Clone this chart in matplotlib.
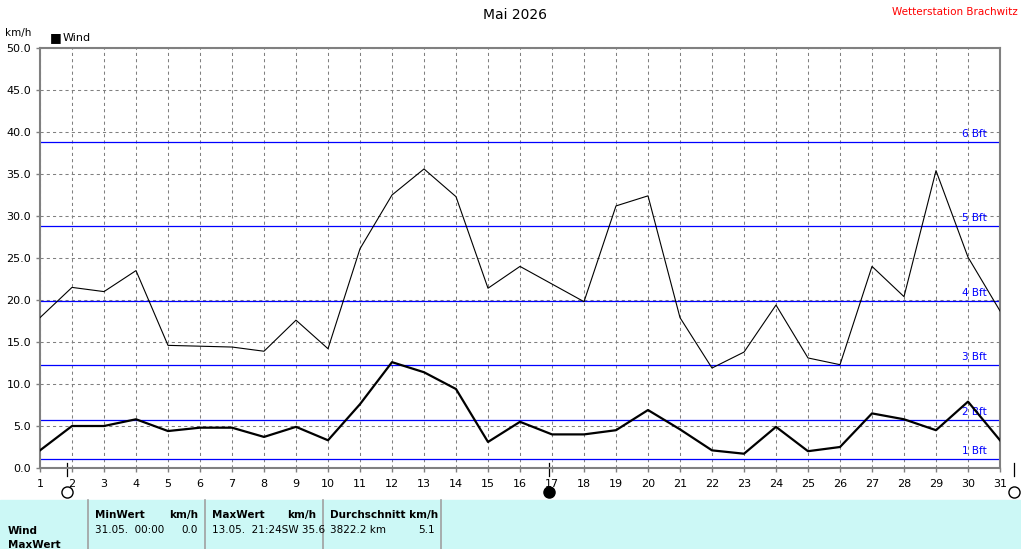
import numpy as np
import matplotlib
matplotlib.use('Agg')
import matplotlib.pyplot as plt
from matplotlib.patches import Rectangle
from matplotlib.lines import Line2D

days = np.arange(1, 32)
boeen = [17.9, 21.5, 21.0, 23.5, 14.6, 14.5, 14.4, 13.9, 17.6, 14.2,
         26.1, 32.5, 35.6, 32.3, 21.4, 24.0, 21.9, 19.8, 31.2, 32.4,
         17.9, 11.9, 13.8, 19.4, 13.1, 12.3, 24.0, 20.4, 35.4, 25.1, 18.7]
wind = [2.1, 5.0, 5.0, 5.8, 4.4, 4.8, 4.8, 3.7, 4.9, 3.3,
        7.6, 12.6, 11.4, 9.4, 3.1, 5.5, 4.0, 4.0, 4.5, 6.9,
        4.6, 2.1, 1.7, 4.9, 2.0, 2.5, 6.5, 5.8, 4.5, 7.9, 3.3]
bft_grenzen = [1.05, 5.7, 12.3, 19.9, 28.8, 38.8]
bft_namen = ['1 Bft', '2 Bft', '3 Bft', '4 Bft', '5 Bft', '6 Bft']
mond_tage = [1.84, 16.9, 31.45]
mond_voll = [True, False, True]

W, H = 1021, 549
def px(x, y):
    return x / W, 1 - y / H

fig = plt.figure(figsize=(W / 100, H / 100), dpi=100)
ax = fig.add_axes([40 / W, (H - 468) / H, 960 / W, 420 / H])

ax.set_xlim(1, 31)
ax.set_ylim(0, 50)
ax.set_xticks(days)
ax.set_yticks(np.arange(0, 50.1, 5))
ax.set_yticklabels([f'{v:.1f}' for v in np.arange(0, 50.1, 5)])
ax.grid(True, color='#808080', linestyle=(0, (3, 3)), linewidth=0.75)
ax.tick_params(labelsize=8, length=3, color='#808080', width=1)
ax.tick_params(axis='x', pad=5)
for s in ax.spines.values():
    s.set_color('#808080')
    s.set_linewidth(1.5)

for g, n in zip(bft_grenzen, bft_namen):
    ax.axhline(g, color='#0000ff', lw=0.9, zorder=2)
    ax.text(30.58, g + 0.35, n, color='#0000ff', fontsize=7.5, ha='right', va='bottom', zorder=3)

ax.plot(days, boeen, color='black', lw=0.8, zorder=4)
ax.plot(days, wind, color='black', lw=1.6, zorder=4)

tr = ax.get_xaxis_transform()
for d, voll in zip(mond_tage, mond_voll):
    ax.plot([d, d], [0.013, -0.02], color='black', lw=0.9, transform=tr, clip_on=False)
    ax.plot(d, -0.057, 'o', ms=8, mfc='white' if voll else 'black', mec='black',
            mew=1, transform=tr, clip_on=False)

fig.text(*px(515, 15), 'Mai 2026', ha='center', va='center', fontsize=10)
fig.text(*px(1018, 12), 'Wetterstation Brachwitz', ha='right', va='center', fontsize=7.5, color='red')
fig.text(*px(5, 33), 'km/h', ha='left', va='center', fontsize=7.5)
fig.text(*px(50, 38), '■', ha='left', va='center', fontsize=9)
fig.text(*px(63, 38), 'Wind', ha='left', va='center', fontsize=8)

# Tabelle unten
fig.patches.append(Rectangle(px(0, 549), 1, 49 / H, transform=fig.transFigure,
                             color='#ccf8f6', zorder=0))
for x in [88, 205, 323, 441]:
    fig.lines.append(Line2D([x / W, x / W], [0, 49 / H], transform=fig.transFigure,
                            color='#a0a0a0', lw=1.2))

fs = 7.5
fig.text(*px(8, 531), 'Wind', fontsize=fs, weight='bold', va='center')
fig.text(*px(8, 545), 'MaxWert', fontsize=fs, weight='bold', va='center')
fig.text(*px(95, 515), 'MinWert', fontsize=fs, weight='bold', va='center')
fig.text(*px(198, 515), 'km/h', fontsize=fs, weight='bold', va='center', ha='right')
fig.text(*px(95, 530), '31.05.  00:00', fontsize=fs, va='center')
fig.text(*px(198, 530), '0.0', fontsize=fs, va='center', ha='right')
fig.text(*px(212, 515), 'MaxWert', fontsize=fs, weight='bold', va='center')
fig.text(*px(316, 515), 'km/h', fontsize=fs, weight='bold', va='center', ha='right')
fig.text(*px(212, 530), '13.05.  21:24SW 35.6', fontsize=fs, va='center')
fig.text(*px(330, 515), 'Durchschnitt km/h', fontsize=fs, weight='bold', va='center')
fig.text(*px(330, 530), '3822.2 km', fontsize=fs, va='center')
fig.text(*px(435, 530), '5.1', fontsize=fs, va='center', ha='right')

fig.savefig('out.png', dpi=100)
